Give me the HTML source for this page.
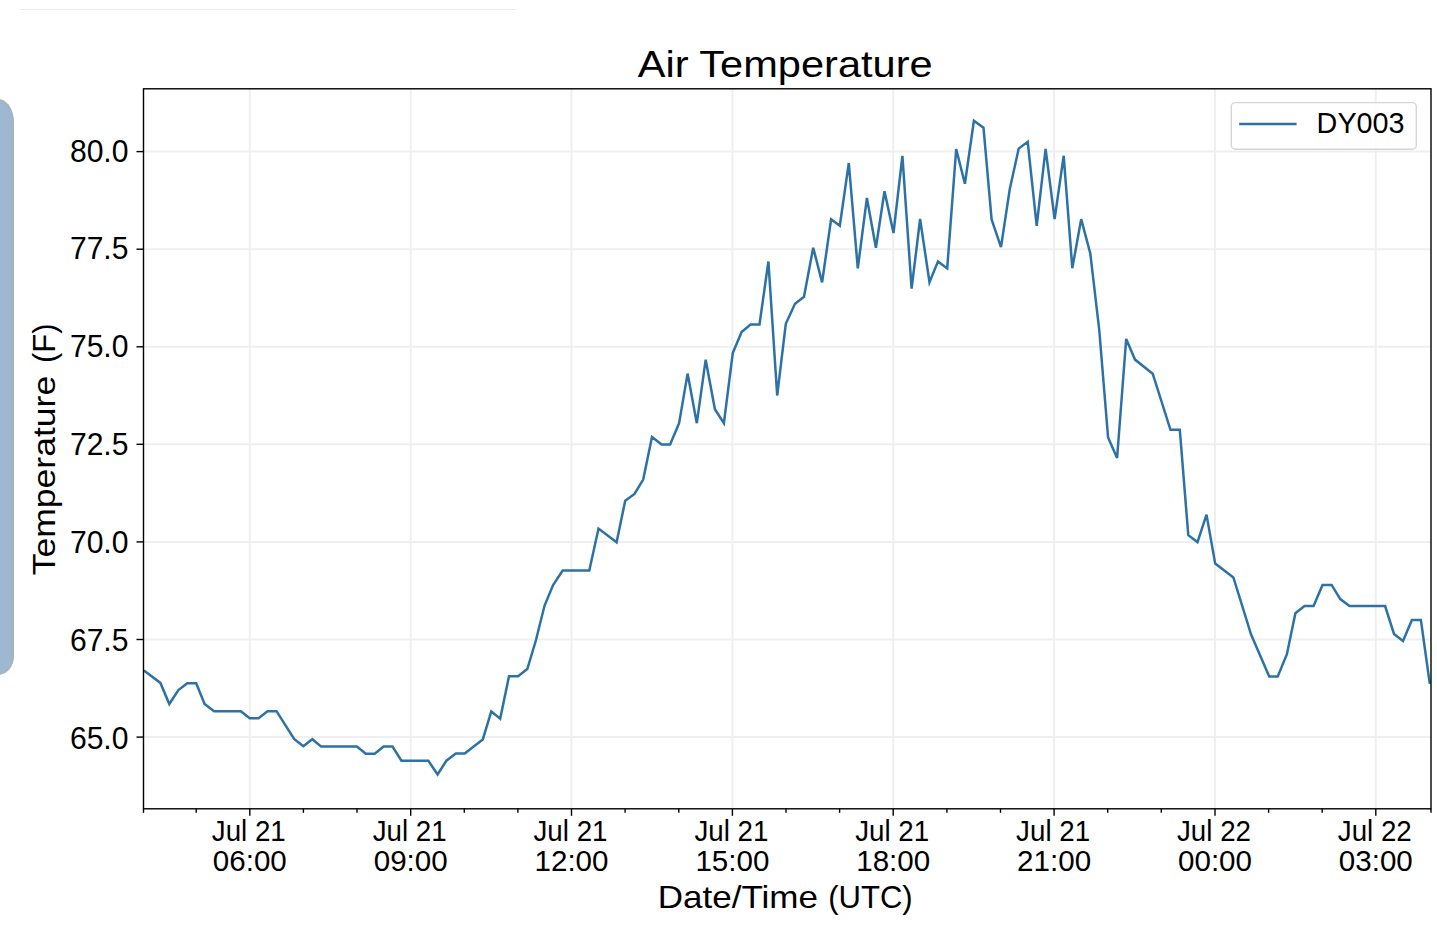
<!DOCTYPE html>
<html><head><meta charset="utf-8"><title>Air Temperature</title>
<style>
html,body{margin:0;padding:0;background:#fff;}
body{width:1437px;height:938px;overflow:hidden;position:relative;font-family:"Liberation Sans", sans-serif;}
.topline{position:absolute;left:20px;top:9px;width:496px;height:1px;background:#ececec;}
.panel{position:absolute;left:-20px;top:99px;width:34px;height:576px;box-sizing:border-box;background:#9eb8d1;border:1.3px solid #aab0b9;border-left:none;box-shadow:inset -2px 0 2px -1px rgba(170,176,185,0.9);border-top-right-radius:16px 23px;border-bottom-right-radius:16px 19px;}
svg{position:absolute;left:0;top:0;}
svg text{font-family:"Liberation Sans", sans-serif;}
</style></head>
<body>
<div class="topline"></div>
<div class="panel"></div>
<svg width="1437" height="938" viewBox="0 0 1437 938">
<g stroke="#efefef" stroke-width="2"><line x1="249.8" y1="88.8" x2="249.8" y2="808.8"/><line x1="410.7" y1="88.8" x2="410.7" y2="808.8"/><line x1="571.5" y1="88.8" x2="571.5" y2="808.8"/><line x1="732.4" y1="88.8" x2="732.4" y2="808.8"/><line x1="893.2" y1="88.8" x2="893.2" y2="808.8"/><line x1="1054.1" y1="88.8" x2="1054.1" y2="808.8"/><line x1="1215.0" y1="88.8" x2="1215.0" y2="808.8"/><line x1="1375.8" y1="88.8" x2="1375.8" y2="808.8"/><line x1="143.5" y1="151.6" x2="1431.0" y2="151.6"/><line x1="143.5" y1="249.2" x2="1431.0" y2="249.2"/><line x1="143.5" y1="346.8" x2="1431.0" y2="346.8"/><line x1="143.5" y1="444.3" x2="1431.0" y2="444.3"/><line x1="143.5" y1="541.9" x2="1431.0" y2="541.9"/><line x1="143.5" y1="639.5" x2="1431.0" y2="639.5"/><line x1="143.5" y1="737.1" x2="1431.0" y2="737.1"/></g>
<polyline fill="none" stroke="#2c72a6" stroke-width="2.5" stroke-linejoin="miter" stroke-miterlimit="4" points="143.9,670.6 160.4,682.9 169.3,704.0 178.4,690.1 187.3,683.2 196.2,683.2 204.6,704.0 214.1,711.3 240.8,711.3 249.7,718.2 258.6,718.2 267.5,711.3 276.5,711.2 294.3,739.2 303.4,746.2 312.3,739.2 321.2,746.6 356.9,746.6 365.8,753.7 374.7,753.7 383.6,746.6 392.5,746.6 401.4,760.7 428.3,760.7 437.6,774.4 446.4,760.7 455.8,753.6 464.7,753.6 482.8,739.4 491.3,711.3 500.2,718.6 509.0,676.3 518.1,676.3 527.3,669.0 536.0,640.0 544.5,605.8 553.1,585.1 562.7,570.6 589.3,570.6 598.5,528.6 616.6,542.3 625.2,500.7 634.5,494.0 643.2,479.6 652.0,436.9 661.6,444.6 670.1,444.6 679.1,423.2 687.6,373.6 696.8,423.2 705.7,359.7 714.9,409.2 723.9,423.2 732.8,352.9 741.6,332.0 750.6,324.5 759.5,324.5 768.4,261.5 777.2,395.5 785.8,323.8 795.0,303.8 804.0,296.7 813.2,247.7 822.1,282.4 831.1,219.3 839.8,225.7 848.8,163.0 857.8,268.4 866.9,198.0 875.9,247.7 884.5,191.3 893.5,233.0 902.4,155.9 911.6,288.7 920.1,219.0 929.5,282.3 938.0,261.4 947.2,268.4 956.2,149.0 964.9,183.8 973.9,120.7 983.5,127.7 991.6,219.4 1001.0,247.1 1009.7,189.6 1018.7,148.6 1027.7,141.8 1036.7,225.9 1045.6,148.8 1054.6,219.1 1063.7,155.8 1072.3,268.2 1081.2,219.1 1090.3,253.5 1099.2,329.5 1108.1,437.5 1117.1,458.0 1126.2,338.9 1135.0,359.6 1152.7,373.7 1170.5,429.8 1179.8,429.8 1188.3,535.2 1197.5,542.1 1206.5,514.6 1215.2,563.6 1233.4,577.4 1251.1,634.6 1269.2,676.6 1277.7,676.6 1286.9,654.2 1295.4,613.2 1304.5,606.1 1313.6,606.1 1322.5,584.9 1331.6,584.9 1340.3,599.1 1349.5,606.0 1385.1,606.0 1394.0,633.9 1403.0,641.0 1411.9,620.0 1420.9,620.0 1429.8,683.9"/>
<rect x="143.5" y="88.8" width="1287.5" height="720.0" fill="none" stroke="#000" stroke-width="1.4"/>
<g stroke="#000" stroke-width="1.4"><line x1="136.5" y1="151.6" x2="143.5" y2="151.6"/><line x1="136.5" y1="249.2" x2="143.5" y2="249.2"/><line x1="136.5" y1="346.8" x2="143.5" y2="346.8"/><line x1="136.5" y1="444.3" x2="143.5" y2="444.3"/><line x1="136.5" y1="541.9" x2="143.5" y2="541.9"/><line x1="136.5" y1="639.5" x2="143.5" y2="639.5"/><line x1="136.5" y1="737.1" x2="143.5" y2="737.1"/><line x1="143.5" y1="808.8" x2="143.5" y2="812.8"/><line x1="196.2" y1="808.8" x2="196.2" y2="812.8"/><line x1="249.8" y1="808.8" x2="249.8" y2="815.8"/><line x1="303.4" y1="808.8" x2="303.4" y2="812.8"/><line x1="357.0" y1="808.8" x2="357.0" y2="812.8"/><line x1="410.7" y1="808.8" x2="410.7" y2="815.8"/><line x1="464.3" y1="808.8" x2="464.3" y2="812.8"/><line x1="517.9" y1="808.8" x2="517.9" y2="812.8"/><line x1="571.5" y1="808.8" x2="571.5" y2="815.8"/><line x1="625.1" y1="808.8" x2="625.1" y2="812.8"/><line x1="678.8" y1="808.8" x2="678.8" y2="812.8"/><line x1="732.4" y1="808.8" x2="732.4" y2="815.8"/><line x1="786.0" y1="808.8" x2="786.0" y2="812.8"/><line x1="839.6" y1="808.8" x2="839.6" y2="812.8"/><line x1="893.2" y1="808.8" x2="893.2" y2="815.8"/><line x1="946.9" y1="808.8" x2="946.9" y2="812.8"/><line x1="1000.5" y1="808.8" x2="1000.5" y2="812.8"/><line x1="1054.1" y1="808.8" x2="1054.1" y2="815.8"/><line x1="1107.7" y1="808.8" x2="1107.7" y2="812.8"/><line x1="1161.3" y1="808.8" x2="1161.3" y2="812.8"/><line x1="1215.0" y1="808.8" x2="1215.0" y2="815.8"/><line x1="1268.6" y1="808.8" x2="1268.6" y2="812.8"/><line x1="1322.2" y1="808.8" x2="1322.2" y2="812.8"/><line x1="1375.8" y1="808.8" x2="1375.8" y2="815.8"/><line x1="1431.0" y1="808.8" x2="1431.0" y2="812.8"/></g>
<g font-size="29" fill="#000"><text x="128.5" y="161.6" text-anchor="end" font-size="30.8" textLength="58.6" lengthAdjust="spacingAndGlyphs">80.0</text><text x="128.5" y="259.4" text-anchor="end" font-size="30.8" textLength="58.6" lengthAdjust="spacingAndGlyphs">77.5</text><text x="128.5" y="357.3" text-anchor="end" font-size="30.8" textLength="58.6" lengthAdjust="spacingAndGlyphs">75.0</text><text x="128.5" y="455.1" text-anchor="end" font-size="30.8" textLength="58.6" lengthAdjust="spacingAndGlyphs">72.5</text><text x="128.5" y="553.0" text-anchor="end" font-size="30.8" textLength="58.6" lengthAdjust="spacingAndGlyphs">70.0</text><text x="128.5" y="650.9" text-anchor="end" font-size="30.8" textLength="58.6" lengthAdjust="spacingAndGlyphs">67.5</text><text x="128.5" y="748.7" text-anchor="end" font-size="30.8" textLength="58.6" lengthAdjust="spacingAndGlyphs">65.0</text><text x="211.8" y="840.7" font-size="30.4" textLength="74" lengthAdjust="spacingAndGlyphs">Jul 21</text><text x="212.8" y="871.4" font-size="30.4" textLength="74" lengthAdjust="spacingAndGlyphs">06:00</text><text x="372.7" y="840.7" font-size="30.4" textLength="74" lengthAdjust="spacingAndGlyphs">Jul 21</text><text x="373.7" y="871.4" font-size="30.4" textLength="74" lengthAdjust="spacingAndGlyphs">09:00</text><text x="533.5" y="840.7" font-size="30.4" textLength="74" lengthAdjust="spacingAndGlyphs">Jul 21</text><text x="534.5" y="871.4" font-size="30.4" textLength="74" lengthAdjust="spacingAndGlyphs">12:00</text><text x="694.4" y="840.7" font-size="30.4" textLength="74" lengthAdjust="spacingAndGlyphs">Jul 21</text><text x="695.4" y="871.4" font-size="30.4" textLength="74" lengthAdjust="spacingAndGlyphs">15:00</text><text x="855.2" y="840.7" font-size="30.4" textLength="74" lengthAdjust="spacingAndGlyphs">Jul 21</text><text x="856.2" y="871.4" font-size="30.4" textLength="74" lengthAdjust="spacingAndGlyphs">18:00</text><text x="1016.1" y="840.7" font-size="30.4" textLength="74" lengthAdjust="spacingAndGlyphs">Jul 21</text><text x="1017.1" y="871.4" font-size="30.4" textLength="74" lengthAdjust="spacingAndGlyphs">21:00</text><text x="1177.0" y="840.7" font-size="30.4" textLength="74" lengthAdjust="spacingAndGlyphs">Jul 22</text><text x="1178.0" y="871.4" font-size="30.4" textLength="74" lengthAdjust="spacingAndGlyphs">00:00</text><text x="1337.8" y="840.7" font-size="30.4" textLength="74" lengthAdjust="spacingAndGlyphs">Jul 22</text><text x="1338.8" y="871.4" font-size="30.4" textLength="74" lengthAdjust="spacingAndGlyphs">03:00</text></g>
<text x="637.7" y="77.3" font-size="37.5" textLength="295" lengthAdjust="spacingAndGlyphs">Air Temperature</text>
<text x="657.8" y="907.8" font-size="31.3" textLength="160.2" lengthAdjust="spacingAndGlyphs">Date/Time</text>
<text x="828.2" y="907.8" font-size="31.3" textLength="84.5" lengthAdjust="spacingAndGlyphs">(UTC)</text>
<text transform="translate(54.7,575.3) rotate(-90)" x="0" y="0" font-size="31.5" textLength="199.5" lengthAdjust="spacingAndGlyphs">Temperature</text>
<text transform="translate(54.7,363.0) rotate(-90)" x="0" y="0" font-size="31.5" textLength="39.5" lengthAdjust="spacingAndGlyphs">(F)</text>
<rect x="1231.3" y="102.6" width="185" height="46.6" rx="4" ry="4" fill="#fff" fill-opacity="0.8" stroke="#d5d5d5" stroke-width="1.4"/>
<line x1="1239.2" y1="124" x2="1296.6" y2="124" stroke="#2c72a6" stroke-width="2.5"/>
<text x="1316.6" y="133" font-size="29.5" textLength="88" lengthAdjust="spacingAndGlyphs">DY003</text>
</svg>
</body></html>
